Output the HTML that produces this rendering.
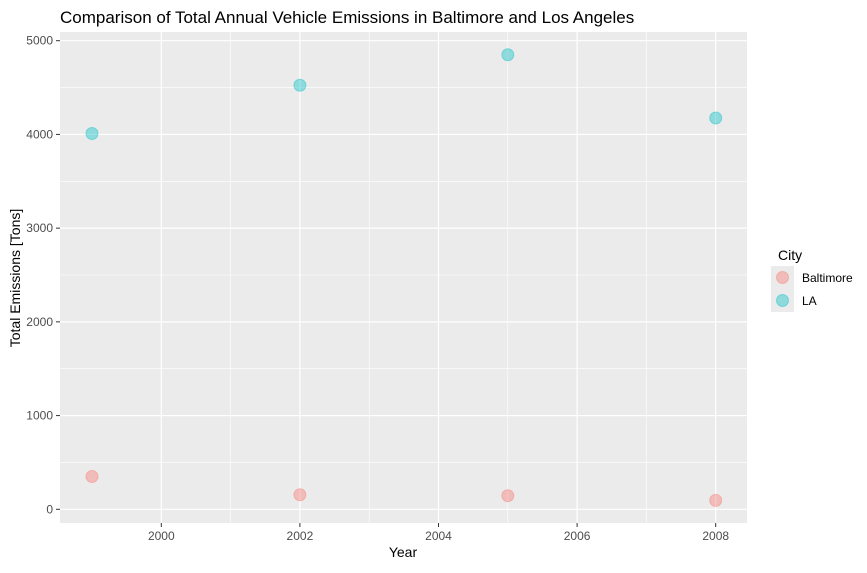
<!DOCTYPE html>
<html><head><meta charset="utf-8"><style>
body{margin:0;background:#fff;font-family:"Liberation Sans",Arial,sans-serif}
</style></head><body>
<svg id="c" width="867" height="568" xmlns="http://www.w3.org/2000/svg">
<text x="60" y="23" font-size="17" fill="#000">Comparison of Total Annual Vehicle Emissions in Baltimore and Los Angeles</text>
<rect x="60" y="32" width="687" height="491" fill="#ebebeb"/>
<g id="grid"></g><g id="axes"></g><g id="pts"></g>
<text x="403" y="557" font-size="14" text-anchor="middle">Year</text>
<text transform="translate(20,278) rotate(-90)" font-size="14" text-anchor="middle">Total Emissions [Tons]</text>
<g>
<text x="778" y="260" font-size="14">City</text>
<rect x="771" y="266" width="23" height="23" fill="#ebebeb"/>
<rect x="771" y="289" width="23" height="23" fill="#ebebeb"/>
<circle cx="782.5" cy="277.5" r="6" fill="#F8766D" fill-opacity="0.4" stroke="#F8766D" stroke-opacity="0.4"/>
<circle cx="782.5" cy="300.5" r="6" fill="#00BFC4" fill-opacity="0.4" stroke="#00BFC4" stroke-opacity="0.4"/>
<text x="802" y="282" font-size="12">Baltimore</text>
<text x="802" y="305" font-size="12">LA</text>
</g>
</svg>
<script>
const years=[1999,2002,2005,2008];
const baltimore=[350,155,145,95];
const la=[4010,4525,4850,4175];
const xTicks=[2000,2002,2004,2006,2008];
const yTicks=[0,1000,2000,3000,4000,5000];
const NS="http://www.w3.org/2000/svg";
const X=v=>161.3+(v-2000)*69.3;
const Y=v=>509.3-v*0.09372;
function mk(t,a,p){const e=document.createElementNS(NS,t);for(const k in a)e.setAttribute(k,a[k]);p.appendChild(e);return e;}
const g=document.getElementById('grid'),ax=document.getElementById('axes'),pts=document.getElementById('pts');
for(let i=0;i<yTicks.length-1;i++){const m=(yTicks[i]+yTicks[i+1])/2;const l=mk('line',{x1:60,x2:747,y1:Y(m),y2:Y(m),stroke:'#fff','stroke-width':0.6},g);

}
for(let i=0;i<xTicks.length-1;i++){const m=(xTicks[i]+xTicks[i+1])/2;const l=mk('line',{y1:32,y2:523,x1:X(m),x2:X(m),stroke:'#fff','stroke-width':0.6},g);

}
{const l=mk('line',{y1:32,y2:523,x1:X(2009),x2:X(2009),stroke:'#fff','stroke-width':0.6},g);

}
yTicks.forEach(v=>{const l=mk('line',{x1:60,x2:747,y1:Y(v),y2:Y(v),stroke:'#fff','stroke-width':1.2},g);


const t=mk('line',{x1:56,x2:60,y1:Y(v),y2:Y(v),stroke:'#333'},ax);


const tx=mk('text',{x:53,y:Y(v)+4,'font-size':12,fill:'#4d4d4d','text-anchor':'end'},ax);tx.textContent=v;

});
xTicks.forEach(v=>{const l=mk('line',{y1:32,y2:523,x1:X(v),x2:X(v),stroke:'#fff','stroke-width':1.2},g);


const t=mk('line',{y1:523,y2:527,x1:X(v),x2:X(v),stroke:'#333'},ax);


const tx=mk('text',{x:X(v),y:540,'font-size':12,fill:'#4d4d4d','text-anchor':'middle'},ax);tx.textContent=v;

});
years.forEach((yr,i)=>{
const a=mk('circle',{cx:X(yr),cy:Y(baltimore[i]),r:6,fill:'#F8766D','fill-opacity':0.4,stroke:'#F8766D','stroke-opacity':0.4},pts);


const b=mk('circle',{cx:X(yr),cy:Y(la[i]),r:6,fill:'#00BFC4','fill-opacity':0.4,stroke:'#00BFC4','stroke-opacity':0.4},pts);

});
</script>
</body></html>
